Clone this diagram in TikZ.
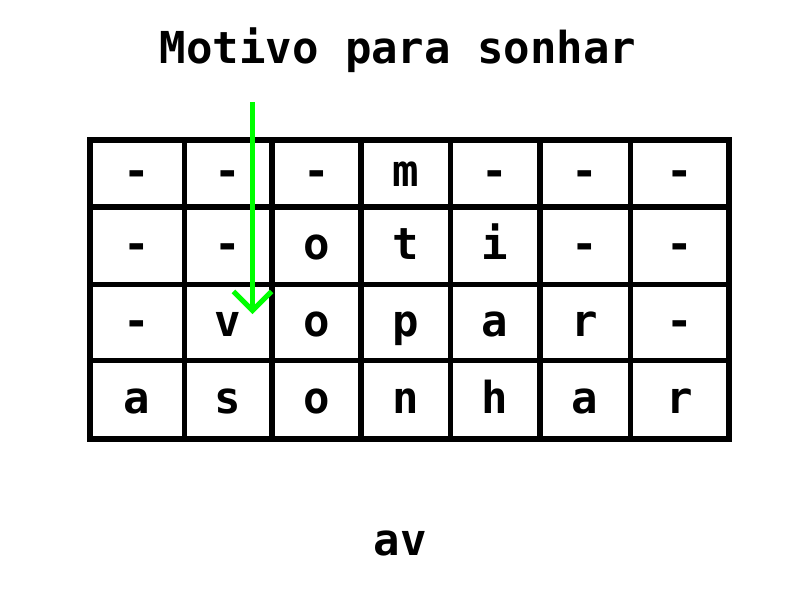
\documentclass[tikz,border=0pt]{standalone}
\usepackage{fontspec}
\newfontfamily\monob[BoldFont={DejaVu Sans Mono Bold}]{DejaVu Sans Mono}
\usetikzlibrary{arrows.meta}
\definecolor{arrowgreen}{HTML}{00FF00}
\tikzset{
  gridline/.style={line width=5.5pt, draw=black},
  cell/.style={anchor=base, inner sep=0pt, font=\monob\bfseries\fontsize{44}{44}\selectfont},
  title/.style={anchor=base, inner sep=0pt, font=\monob\bfseries\fontsize{44}{44}\selectfont},
  pointer/.style={line width=5pt, draw=arrowgreen, -{Straight Barb[length=19pt,width=38pt,line width=5pt]}}
}
\begin{document}
\begin{tikzpicture}[x=1pt,y=-1pt]
\useasboundingbox (0,0) rectangle (800,600);
% grid
\foreach \xx in {90,184.5,272,361,450.5,540,630.5,729}
  \draw[gridline] (\xx,140) -- (\xx,439);
\foreach \yy in {140,207,284.5,360.5,439}
  \draw[gridline] (90,\yy) -- (729,\yy);
\draw[gridline, line join=miter] (90,140) rectangle (729,439);
% cells
\def\colx{{137,228,316.5,405.5,495,585,680}}
\def\rowy{{186.5,259,336.5,413}}
\foreach \r/\letters in {0/{-,-,-,m,-,-,-},1/{-,-,o,t,i,-,-},2/{-,v,o,p,a,r,-},3/{a,s,o,n,h,a,r}}{
  \foreach \ch [count=\c from 0] in \letters {
    \pgfmathsetmacro{\cx}{\colx[\c]}
    \pgfmathsetmacro{\cy}{\rowy[\r]}
    \node[cell] (c\r\c) at (\cx,\cy) {\ch};
  }
}
% title and result
\node[title] (title) at (398,63) {Motivo para sonhar};
\node[title] (result) at (400,555) {av};
% pointer
\coordinate (pstart) at (252.5,102);
\coordinate (pend) at (252.5,314);
\draw[pointer] (pstart) -- (pend);
\end{tikzpicture}
\end{document}
